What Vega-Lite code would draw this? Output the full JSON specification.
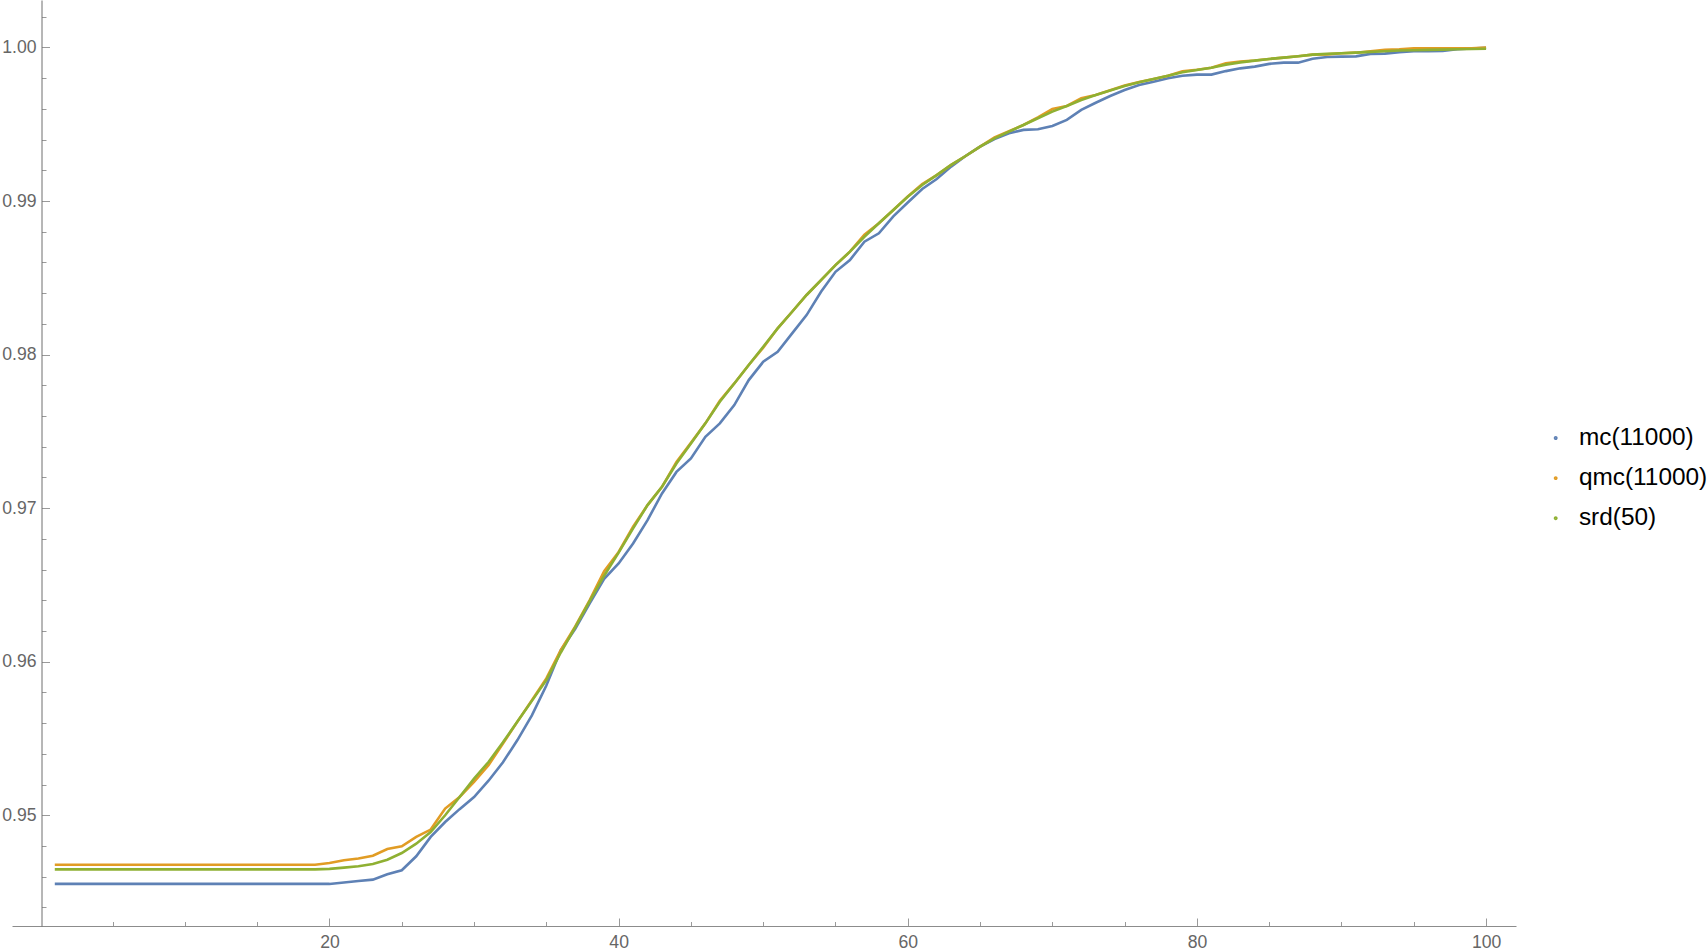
{
  "$schema": "https://vega.github.io/schema/vega-lite/v6.json",
  "autosize": "none",
  "width": 1504,
  "height": 926,
  "padding": {"left": 12, "top": 0, "right": 191, "bottom": 24},
  "background": "white",
  "config": {"view": {"stroke": null}},
  "data": {"values": [
    {"n":1,"s":"mc(11000)","v":0.94553},{"n":2,"s":"mc(11000)","v":0.94553},{"n":3,"s":"mc(11000)","v":0.94553},{"n":4,"s":"mc(11000)","v":0.94553},{"n":5,"s":"mc(11000)","v":0.94553},{"n":6,"s":"mc(11000)","v":0.94553},{"n":7,"s":"mc(11000)","v":0.94553},{"n":8,"s":"mc(11000)","v":0.94553},{"n":9,"s":"mc(11000)","v":0.94553},{"n":10,"s":"mc(11000)","v":0.94553},
    {"n":11,"s":"mc(11000)","v":0.94553},{"n":12,"s":"mc(11000)","v":0.94553},{"n":13,"s":"mc(11000)","v":0.94553},{"n":14,"s":"mc(11000)","v":0.94553},{"n":15,"s":"mc(11000)","v":0.94553},{"n":16,"s":"mc(11000)","v":0.94553},{"n":17,"s":"mc(11000)","v":0.94553},{"n":18,"s":"mc(11000)","v":0.94553},{"n":19,"s":"mc(11000)","v":0.94553},{"n":20,"s":"mc(11000)","v":0.94553},
    {"n":21,"s":"mc(11000)","v":0.94562},{"n":22,"s":"mc(11000)","v":0.94572},{"n":23,"s":"mc(11000)","v":0.94581},{"n":24,"s":"mc(11000)","v":0.94616},{"n":25,"s":"mc(11000)","v":0.94642},{"n":26,"s":"mc(11000)","v":0.94733},{"n":27,"s":"mc(11000)","v":0.94859},{"n":28,"s":"mc(11000)","v":0.94956},{"n":29,"s":"mc(11000)","v":0.95040},{"n":30,"s":"mc(11000)","v":0.95119},
    {"n":31,"s":"mc(11000)","v":0.95225},{"n":32,"s":"mc(11000)","v":0.95345},{"n":33,"s":"mc(11000)","v":0.95490},{"n":34,"s":"mc(11000)","v":0.95651},{"n":35,"s":"mc(11000)","v":0.95845},{"n":36,"s":"mc(11000)","v":0.96075},{"n":37,"s":"mc(11000)","v":0.96215},{"n":38,"s":"mc(11000)","v":0.96380},{"n":39,"s":"mc(11000)","v":0.96540},{"n":40,"s":"mc(11000)","v":0.96640},
    {"n":41,"s":"mc(11000)","v":0.96770},{"n":42,"s":"mc(11000)","v":0.96922},{"n":43,"s":"mc(11000)","v":0.97096},{"n":44,"s":"mc(11000)","v":0.97236},{"n":45,"s":"mc(11000)","v":0.97324},{"n":46,"s":"mc(11000)","v":0.97465},{"n":47,"s":"mc(11000)","v":0.97552},{"n":48,"s":"mc(11000)","v":0.97671},{"n":49,"s":"mc(11000)","v":0.97834},{"n":50,"s":"mc(11000)","v":0.97953},
    {"n":51,"s":"mc(11000)","v":0.98018},{"n":52,"s":"mc(11000)","v":0.98138},{"n":53,"s":"mc(11000)","v":0.98257},{"n":54,"s":"mc(11000)","v":0.98409},{"n":55,"s":"mc(11000)","v":0.98539},{"n":56,"s":"mc(11000)","v":0.98616},{"n":57,"s":"mc(11000)","v":0.98735},{"n":58,"s":"mc(11000)","v":0.98790},{"n":59,"s":"mc(11000)","v":0.98900},{"n":60,"s":"mc(11000)","v":0.98990},
    {"n":61,"s":"mc(11000)","v":0.99078},{"n":62,"s":"mc(11000)","v":0.99143},{"n":63,"s":"mc(11000)","v":0.99224},{"n":64,"s":"mc(11000)","v":0.99293},{"n":65,"s":"mc(11000)","v":0.99354},{"n":66,"s":"mc(11000)","v":0.99404},{"n":67,"s":"mc(11000)","v":0.99441},{"n":68,"s":"mc(11000)","v":0.99463},{"n":69,"s":"mc(11000)","v":0.99467},{"n":70,"s":"mc(11000)","v":0.99489},
    {"n":71,"s":"mc(11000)","v":0.99528},{"n":72,"s":"mc(11000)","v":0.99593},{"n":73,"s":"mc(11000)","v":0.99640},{"n":74,"s":"mc(11000)","v":0.99684},{"n":75,"s":"mc(11000)","v":0.99723},{"n":76,"s":"mc(11000)","v":0.99756},{"n":77,"s":"mc(11000)","v":0.99777},{"n":78,"s":"mc(11000)","v":0.99799},{"n":79,"s":"mc(11000)","v":0.99816},{"n":80,"s":"mc(11000)","v":0.99823},
    {"n":81,"s":"mc(11000)","v":0.99823},{"n":82,"s":"mc(11000)","v":0.99846},{"n":83,"s":"mc(11000)","v":0.99864},{"n":84,"s":"mc(11000)","v":0.99875},{"n":85,"s":"mc(11000)","v":0.99893},{"n":86,"s":"mc(11000)","v":0.99901},{"n":87,"s":"mc(11000)","v":0.99901},{"n":88,"s":"mc(11000)","v":0.99927},{"n":89,"s":"mc(11000)","v":0.99938},{"n":90,"s":"mc(11000)","v":0.99940},
    {"n":91,"s":"mc(11000)","v":0.99942},{"n":92,"s":"mc(11000)","v":0.99958},{"n":93,"s":"mc(11000)","v":0.99960},{"n":94,"s":"mc(11000)","v":0.99969},{"n":95,"s":"mc(11000)","v":0.99975},{"n":96,"s":"mc(11000)","v":0.99975},{"n":97,"s":"mc(11000)","v":0.99977},{"n":98,"s":"mc(11000)","v":0.99988},{"n":99,"s":"mc(11000)","v":0.99993},{"n":100,"s":"mc(11000)","v":0.99997},

    {"n":1,"s":"qmc(11000)","v":0.94678},{"n":2,"s":"qmc(11000)","v":0.94678},{"n":3,"s":"qmc(11000)","v":0.94678},{"n":4,"s":"qmc(11000)","v":0.94678},{"n":5,"s":"qmc(11000)","v":0.94678},{"n":6,"s":"qmc(11000)","v":0.94678},{"n":7,"s":"qmc(11000)","v":0.94678},{"n":8,"s":"qmc(11000)","v":0.94678},{"n":9,"s":"qmc(11000)","v":0.94678},{"n":10,"s":"qmc(11000)","v":0.94678},
    {"n":11,"s":"qmc(11000)","v":0.94678},{"n":12,"s":"qmc(11000)","v":0.94678},{"n":13,"s":"qmc(11000)","v":0.94678},{"n":14,"s":"qmc(11000)","v":0.94678},{"n":15,"s":"qmc(11000)","v":0.94678},{"n":16,"s":"qmc(11000)","v":0.94678},{"n":17,"s":"qmc(11000)","v":0.94678},{"n":18,"s":"qmc(11000)","v":0.94678},{"n":19,"s":"qmc(11000)","v":0.94678},{"n":20,"s":"qmc(11000)","v":0.94689},
    {"n":21,"s":"qmc(11000)","v":0.94707},{"n":22,"s":"qmc(11000)","v":0.94718},{"n":23,"s":"qmc(11000)","v":0.94737},{"n":24,"s":"qmc(11000)","v":0.94780},{"n":25,"s":"qmc(11000)","v":0.94798},{"n":26,"s":"qmc(11000)","v":0.94859},{"n":27,"s":"qmc(11000)","v":0.94907},{"n":28,"s":"qmc(11000)","v":0.95044},{"n":29,"s":"qmc(11000)","v":0.95119},{"n":30,"s":"qmc(11000)","v":0.95217},
    {"n":31,"s":"qmc(11000)","v":0.95326},{"n":32,"s":"qmc(11000)","v":0.95467},{"n":33,"s":"qmc(11000)","v":0.95610},{"n":34,"s":"qmc(11000)","v":0.95749},{"n":35,"s":"qmc(11000)","v":0.95891},{"n":36,"s":"qmc(11000)","v":0.96075},{"n":37,"s":"qmc(11000)","v":0.96230},{"n":38,"s":"qmc(11000)","v":0.96401},{"n":39,"s":"qmc(11000)","v":0.96590},{"n":40,"s":"qmc(11000)","v":0.96715},
    {"n":41,"s":"qmc(11000)","v":0.96880},{"n":42,"s":"qmc(11000)","v":0.97020},{"n":43,"s":"qmc(11000)","v":0.97139},{"n":44,"s":"qmc(11000)","v":0.97300},{"n":45,"s":"qmc(11000)","v":0.97425},{"n":46,"s":"qmc(11000)","v":0.97552},{"n":47,"s":"qmc(11000)","v":0.97700},{"n":48,"s":"qmc(11000)","v":0.97812},{"n":49,"s":"qmc(11000)","v":0.97932},{"n":50,"s":"qmc(11000)","v":0.98045},
    {"n":51,"s":"qmc(11000)","v":0.98171},{"n":52,"s":"qmc(11000)","v":0.98279},{"n":53,"s":"qmc(11000)","v":0.98388},{"n":54,"s":"qmc(11000)","v":0.98485},{"n":55,"s":"qmc(11000)","v":0.98583},{"n":56,"s":"qmc(11000)","v":0.98670},{"n":57,"s":"qmc(11000)","v":0.98780},{"n":58,"s":"qmc(11000)","v":0.98855},{"n":59,"s":"qmc(11000)","v":0.98941},{"n":60,"s":"qmc(11000)","v":0.99030},
    {"n":61,"s":"qmc(11000)","v":0.99110},{"n":62,"s":"qmc(11000)","v":0.99169},{"n":63,"s":"qmc(11000)","v":0.99235},{"n":64,"s":"qmc(11000)","v":0.99293},{"n":65,"s":"qmc(11000)","v":0.99354},{"n":66,"s":"qmc(11000)","v":0.99415},{"n":67,"s":"qmc(11000)","v":0.99455},{"n":68,"s":"qmc(11000)","v":0.99495},{"n":69,"s":"qmc(11000)","v":0.99545},{"n":70,"s":"qmc(11000)","v":0.99599},
    {"n":71,"s":"qmc(11000)","v":0.99619},{"n":72,"s":"qmc(11000)","v":0.99669},{"n":73,"s":"qmc(11000)","v":0.99691},{"n":74,"s":"qmc(11000)","v":0.99722},{"n":75,"s":"qmc(11000)","v":0.99752},{"n":76,"s":"qmc(11000)","v":0.99775},{"n":77,"s":"qmc(11000)","v":0.99795},{"n":78,"s":"qmc(11000)","v":0.99816},{"n":79,"s":"qmc(11000)","v":0.99845},{"n":80,"s":"qmc(11000)","v":0.99855},
    {"n":81,"s":"qmc(11000)","v":0.99868},{"n":82,"s":"qmc(11000)","v":0.99897},{"n":83,"s":"qmc(11000)","v":0.99908},{"n":84,"s":"qmc(11000)","v":0.99915},{"n":85,"s":"qmc(11000)","v":0.99925},{"n":86,"s":"qmc(11000)","v":0.99934},{"n":87,"s":"qmc(11000)","v":0.99943},{"n":88,"s":"qmc(11000)","v":0.99953},{"n":89,"s":"qmc(11000)","v":0.99955},{"n":90,"s":"qmc(11000)","v":0.99962},
    {"n":91,"s":"qmc(11000)","v":0.99966},{"n":92,"s":"qmc(11000)","v":0.99975},{"n":93,"s":"qmc(11000)","v":0.99985},{"n":94,"s":"qmc(11000)","v":0.99988},{"n":95,"s":"qmc(11000)","v":0.99995},{"n":96,"s":"qmc(11000)","v":0.99995},{"n":97,"s":"qmc(11000)","v":0.99995},{"n":98,"s":"qmc(11000)","v":0.99995},{"n":99,"s":"qmc(11000)","v":0.99995},{"n":100,"s":"qmc(11000)","v":1.00000},

    {"n":1,"s":"srd(50)","v":0.94648},{"n":2,"s":"srd(50)","v":0.94648},{"n":3,"s":"srd(50)","v":0.94648},{"n":4,"s":"srd(50)","v":0.94648},{"n":5,"s":"srd(50)","v":0.94648},{"n":6,"s":"srd(50)","v":0.94648},{"n":7,"s":"srd(50)","v":0.94648},{"n":8,"s":"srd(50)","v":0.94648},{"n":9,"s":"srd(50)","v":0.94648},{"n":10,"s":"srd(50)","v":0.94648},
    {"n":11,"s":"srd(50)","v":0.94648},{"n":12,"s":"srd(50)","v":0.94648},{"n":13,"s":"srd(50)","v":0.94648},{"n":14,"s":"srd(50)","v":0.94648},{"n":15,"s":"srd(50)","v":0.94648},{"n":16,"s":"srd(50)","v":0.94648},{"n":17,"s":"srd(50)","v":0.94648},{"n":18,"s":"srd(50)","v":0.94648},{"n":19,"s":"srd(50)","v":0.94648},{"n":20,"s":"srd(50)","v":0.94651},
    {"n":21,"s":"srd(50)","v":0.94659},{"n":22,"s":"srd(50)","v":0.94668},{"n":23,"s":"srd(50)","v":0.94683},{"n":24,"s":"srd(50)","v":0.94711},{"n":25,"s":"srd(50)","v":0.94754},{"n":26,"s":"srd(50)","v":0.94815},{"n":27,"s":"srd(50)","v":0.94891},{"n":28,"s":"srd(50)","v":0.95000},{"n":29,"s":"srd(50)","v":0.95119},{"n":30,"s":"srd(50)","v":0.95239},
    {"n":31,"s":"srd(50)","v":0.95347},{"n":32,"s":"srd(50)","v":0.95475},{"n":33,"s":"srd(50)","v":0.95610},{"n":34,"s":"srd(50)","v":0.95745},{"n":35,"s":"srd(50)","v":0.95880},{"n":36,"s":"srd(50)","v":0.96060},{"n":37,"s":"srd(50)","v":0.96225},{"n":38,"s":"srd(50)","v":0.96395},{"n":39,"s":"srd(50)","v":0.96560},{"n":40,"s":"srd(50)","v":0.96710},
    {"n":41,"s":"srd(50)","v":0.96868},{"n":42,"s":"srd(50)","v":0.97020},{"n":43,"s":"srd(50)","v":0.97139},{"n":44,"s":"srd(50)","v":0.97291},{"n":45,"s":"srd(50)","v":0.97421},{"n":46,"s":"srd(50)","v":0.97552},{"n":47,"s":"srd(50)","v":0.97693},{"n":48,"s":"srd(50)","v":0.97812},{"n":49,"s":"srd(50)","v":0.97932},{"n":50,"s":"srd(50)","v":0.98051},
    {"n":51,"s":"srd(50)","v":0.98171},{"n":52,"s":"srd(50)","v":0.98279},{"n":53,"s":"srd(50)","v":0.98388},{"n":54,"s":"srd(50)","v":0.98485},{"n":55,"s":"srd(50)","v":0.98583},{"n":56,"s":"srd(50)","v":0.98670},{"n":57,"s":"srd(50)","v":0.98767},{"n":58,"s":"srd(50)","v":0.98855},{"n":59,"s":"srd(50)","v":0.98941},{"n":60,"s":"srd(50)","v":0.99028},
    {"n":61,"s":"srd(50)","v":0.99104},{"n":62,"s":"srd(50)","v":0.99169},{"n":63,"s":"srd(50)","v":0.99235},{"n":64,"s":"srd(50)","v":0.99293},{"n":65,"s":"srd(50)","v":0.99354},{"n":66,"s":"srd(50)","v":0.99408},{"n":67,"s":"srd(50)","v":0.99452},{"n":68,"s":"srd(50)","v":0.99495},{"n":69,"s":"srd(50)","v":0.99539},{"n":70,"s":"srd(50)","v":0.99582},
    {"n":71,"s":"srd(50)","v":0.99619},{"n":72,"s":"srd(50)","v":0.99658},{"n":73,"s":"srd(50)","v":0.99691},{"n":74,"s":"srd(50)","v":0.99719},{"n":75,"s":"srd(50)","v":0.99749},{"n":76,"s":"srd(50)","v":0.99773},{"n":77,"s":"srd(50)","v":0.99795},{"n":78,"s":"srd(50)","v":0.99816},{"n":79,"s":"srd(50)","v":0.99838},{"n":80,"s":"srd(50)","v":0.99853},
    {"n":81,"s":"srd(50)","v":0.99868},{"n":82,"s":"srd(50)","v":0.99888},{"n":83,"s":"srd(50)","v":0.99903},{"n":84,"s":"srd(50)","v":0.99914},{"n":85,"s":"srd(50)","v":0.99925},{"n":86,"s":"srd(50)","v":0.99934},{"n":87,"s":"srd(50)","v":0.99943},{"n":88,"s":"srd(50)","v":0.99953},{"n":89,"s":"srd(50)","v":0.99958},{"n":90,"s":"srd(50)","v":0.99962},
    {"n":91,"s":"srd(50)","v":0.99966},{"n":92,"s":"srd(50)","v":0.99971},{"n":93,"s":"srd(50)","v":0.99975},{"n":94,"s":"srd(50)","v":0.99980},{"n":95,"s":"srd(50)","v":0.99982},{"n":96,"s":"srd(50)","v":0.99984},{"n":97,"s":"srd(50)","v":0.99986},{"n":98,"s":"srd(50)","v":0.99988},{"n":99,"s":"srd(50)","v":0.99990},{"n":100,"s":"srd(50)","v":0.99992}
  ]},
  "mark": {"type": "line", "strokeWidth": 2.6, "clip": false},
  "encoding": {
    "x": {
      "field": "n", "type": "quantitative",
      "scale": {"domain": [-1.96, 102.07], "nice": false, "zero": false},
      "axis": {
        "title": null, "grid": false,
        "values": [5,10,15,20,25,30,35,40,45,50,55,60,65,70,75,80,85,90,95,100],
        "domainColor": "#8c8c8c", "domainWidth": 1,
        "tickColor": "#9a9a9a", "tickWidth": 1,
        "tickSize": {"condition": {"test": "datum.value % 20 == 0", "value": -8}, "value": -4.5},
        "labelExpr": "datum.value % 20 == 0 ? datum.label : ''",
        "labelFont": "Liberation Sans", "labelFontSize": 17.6, "labelColor": "#666666",
        "labelPadding": 15, "labelOverlap": false, "labelBound": false, "labelFlush": false
      }
    },
    "y": {
      "field": "v", "type": "quantitative",
      "scale": {"domain": [0.94279, 1.00309], "nice": false, "zero": false},
      "axis": {
        "title": null, "grid": false, "offset": -29.5,
        "values": [0.944,0.946,0.948,0.95,0.952,0.954,0.956,0.958,0.96,0.962,0.964,0.966,0.968,0.97,0.972,0.974,0.976,0.978,0.98,0.982,0.984,0.986,0.988,0.99,0.992,0.994,0.996,0.998,1.0,1.002],
        "domainColor": "#6e6e6e", "domainWidth": 1,
        "tickColor": "#9a9a9a", "tickWidth": 1,
        "tickSize": {"condition": {"test": "abs(datum.value*100 - round(datum.value*100)) < 0.01", "value": -8}, "value": -4.5},
        "labelExpr": "abs(datum.value*100 - round(datum.value*100)) < 0.01 ? format(datum.value, '.2f') : ''",
        "labelFont": "Liberation Sans", "labelFontSize": 17.6, "labelColor": "#666666",
        "labelPadding": 13.5, "labelOverlap": false, "labelBound": false, "labelFlush": false
      }
    },
    "color": {
      "field": "s", "type": "nominal",
      "scale": {"domain": ["mc(11000)", "qmc(11000)", "srd(50)"], "range": ["#5E81B5", "#E19C24", "#8FB032"]},
      "legend": {
        "title": null, "orient": "none", "legendX": 1531.5, "legendY": 425.8,
        "symbolType": "circle", "symbolSize": 3, "symbolStrokeWidth": 2.2,
        "labelFont": "Liberation Sans", "labelFontSize": 24.4, "labelColor": "#000000",
        "labelOffset": 11, "rowPadding": 15.1, "padding": 0, "labelLimit": 300
      }
    }
  }
}
